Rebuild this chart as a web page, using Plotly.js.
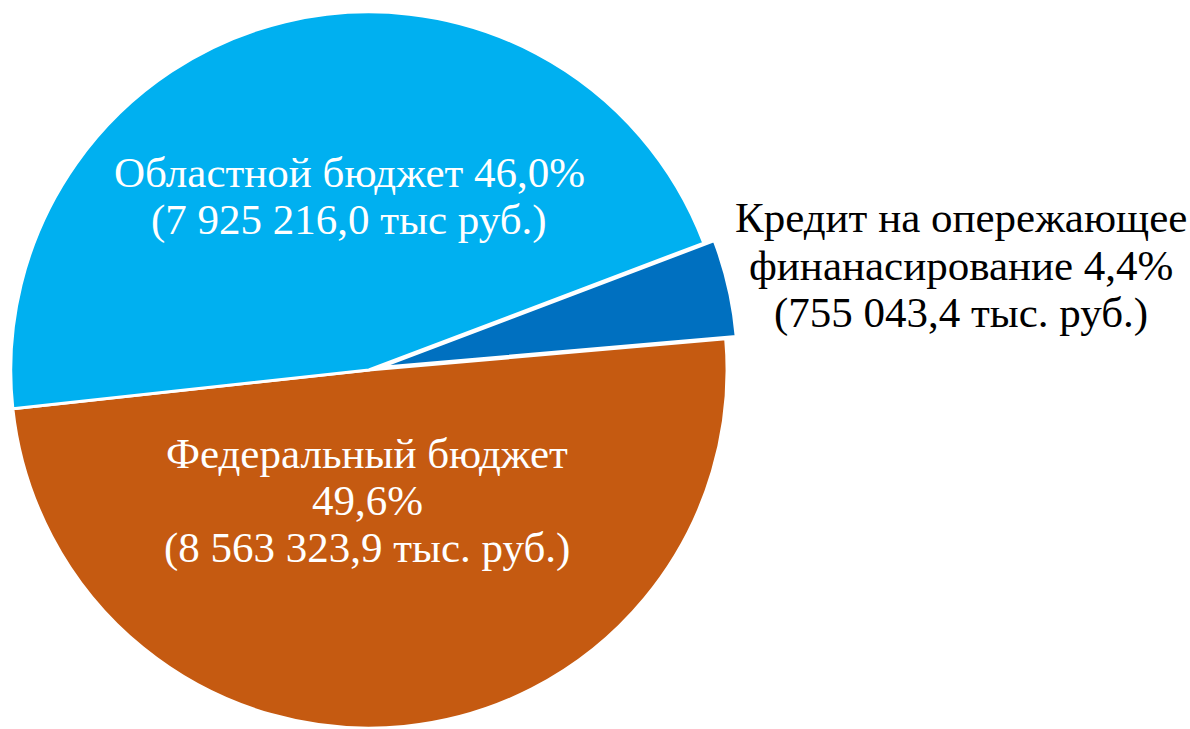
<!DOCTYPE html>
<html>
<head>
<meta charset="utf-8">
<script src="https://cdn.plot.ly/plotly-3.0.1.min.js"></script>
<style>
html, body { margin: 0; padding: 0; overflow: hidden; background: #ffffff; }
#chart { width: 1190px; height: 740px; }
</style>
</head>
<body>
<div id="chart"></div>
<script>
// Data
var categories = ["Федеральный бюджет", "Областной бюджет", "Кредит на опережающее финанасирование"];
var values = [8563323.9, 7925216.0, 755043.4];           // тыс. руб.
var percentLabels = ["49,6%", "46,0%", "4,4%"];
var valueLabels = ["(8 563 323,9 тыс. руб.)", "(7 925 216,0 тыс руб.)", "(755 043,4 тыс. руб.)"];
var colors = ["#C55A11", "#00B0F0", "#0070C0"];
var pulls = [0, 0, 0.03];

// Label lines built from the arrays above
var labelLines = [
  [categories[0], percentLabels[0], valueLabels[0]],
  [categories[1] + " " + percentLabels[1], valueLabels[1]],
  ["Кредит на опережающее", "финанасирование " + percentLabels[2], valueLabels[2]]
];

var W = 1190, H = 740;
// label anchor (pixel centre x, first baseline y, line step) per slice
var labelPlace = [
  {x: 367, y: 468, step: 47.5, color: "#ffffff"},
  {x: 349, y: 187, step: 48, color: "#ffffff"},
  {x: 961, y: 232, step: 48, color: "#000000"}
];
var FS = 43;
var FONT = 'Liberation Serif';

var annotations = [];
labelLines.forEach(function (lines, i) {
  var p = labelPlace[i];
  lines.forEach(function (t, j) {
    var baseline = p.y + j * p.step;
    var cy = baseline - 0.3375 * FS;
    annotations.push({
      xref: "paper", yref: "paper",
      x: p.x / W, y: 1 - cy / H,
      xanchor: "center", yanchor: "middle",
      text: t, showarrow: false,
      font: {family: FONT, size: FS, color: p.color}
    });
  });
});

var trace = {
  type: "pie",
  labels: categories,
  values: values,
  sort: false,
  direction: "clockwise",
  rotation: 85,
  pull: pulls,
  textinfo: "none",
  hoverinfo: "none",
  marker: {colors: colors, line: {color: "#ffffff", width: 3}},
  domain: {x: [0, 0.62], y: [0, 1]}
};

var layout = {
  width: W, height: H,
  margin: {l: 0, r: 0, t: 0, b: 0},
  showlegend: false,
  paper_bgcolor: "#ffffff",
  font: {family: FONT},
  annotations: annotations
};

Plotly.newPlot("chart", [trace], layout, {displayModeBar: false, staticPlot: true});
</script>
</body>
</html>
